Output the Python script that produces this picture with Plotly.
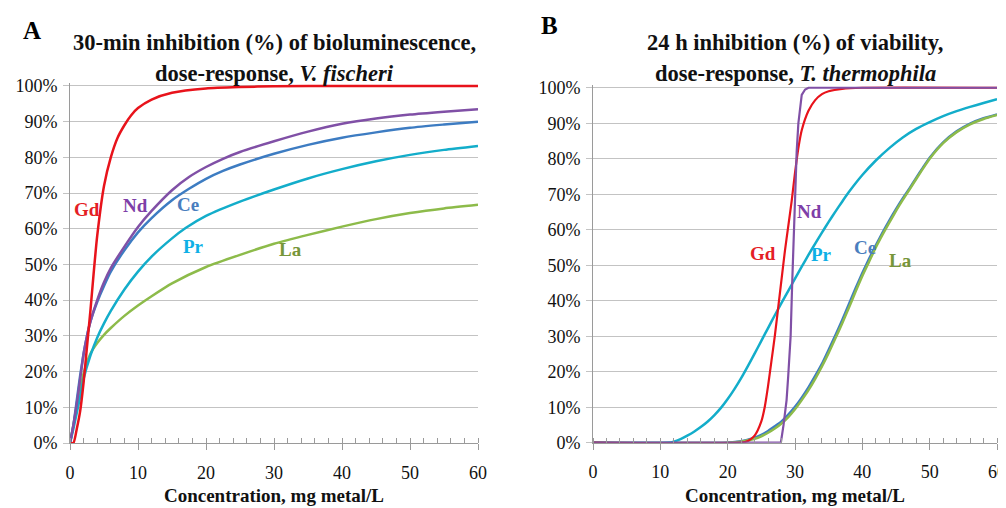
import plotly.graph_objects as go

# ---------------- Panel A data: 30-min inhibition (%) of bioluminescence, V. fischeri
a_gd_x = [0, 0.5, 1, 1.5, 2, 2.5, 3, 3.5, 4, 5, 6, 7, 8, 9, 10, 12, 15, 20, 25, 30, 40, 50, 60]
a_gd_y = [0, 0, 4, 9, 17, 27, 37, 48, 58, 72, 80, 85.5, 89, 91.8, 93.8, 96.2, 98.1, 99.3, 99.7, 99.9, 100, 100, 100]

a_nd_x = [0, 0.5, 1, 1.5, 2, 2.5, 3, 4, 5, 6, 8, 10, 12, 15, 17.5, 20, 22.5, 25, 30, 35, 40, 45, 50, 55, 60]
a_nd_y = [0, 5, 11, 18, 25, 30, 34, 40, 45, 49, 55, 60.5, 65, 70.8, 74.5, 77.3, 79.6, 81.5, 84.5, 87.2,
          89.4, 90.9, 92, 92.8, 93.5]

a_ce_x = [0, 0.5, 1, 1.5, 2, 2.5, 3, 4, 5, 6, 8, 10, 12, 15, 17.5, 20, 22.5, 25, 30, 35, 40, 45, 50, 55, 60]
a_ce_y = [0, 5, 12, 19, 25, 30, 34, 39.5, 44, 48, 54, 59, 63, 68, 71.2, 74, 76.2, 78, 81, 83.5, 85.5, 87,
          88.3, 89.2, 90]

a_pr_x = [0, 0.5, 1, 1.5, 2, 3, 4, 5, 6, 8, 10, 12, 15, 17, 20, 25, 30, 35, 40, 45, 50, 55, 60]
a_pr_y = [0, 4, 8.5, 13, 18, 24.5, 29.5, 33.5, 37, 43, 48, 52.2, 57.3, 60.2, 63.6, 67.6, 71, 74.1, 76.7,
          78.9, 80.7, 82.1, 83.2]

a_la_x = [0, 0.5, 1, 1.5, 2, 3, 4, 5, 6, 8, 10, 12, 15, 20, 25, 30, 35, 40, 45, 50, 55, 60]
a_la_y = [0, 5, 10, 15, 19.5, 25, 28, 30.3, 32.2, 35.6, 38.5, 41.1, 44.7, 49.3, 52.7, 55.8, 58.3, 60.6, 62.7, 64.4, 65.7, 66.7]

# ---------------- Panel B data: 24 h inhibition (%) of viability, T. thermophila
b_gd_x = [0, 22, 23, 24, 25, 25.5, 26, 26.5, 27, 27.5, 28, 28.5, 29, 29.5, 30, 30.5, 31, 32, 33, 34, 35, 37, 40, 60]
b_gd_y = [0, 0, 0.5, 2, 6, 10, 16, 23, 30, 38, 46, 54, 61, 68, 76, 83, 88, 93.5, 96.5, 98.2, 99, 99.7, 100, 100]

b_nd_x = [0, 27.9, 28.3, 28.75, 29.0, 29.35, 29.6, 29.8, 30.0, 30.25, 30.5, 30.75, 31.0, 31.5, 32, 60]
b_nd_y = [0, 0, 5, 12, 19, 30, 46, 58, 71, 82, 90, 95, 98, 99.5, 100, 100]

b_pr_x = [0, 11, 12, 13, 14, 15, 16, 17, 18, 19, 20, 21, 22, 23, 24, 25, 26, 27, 28, 29, 30, 31, 32,
          33, 34, 35, 36, 37, 38, 40, 42, 44, 46, 48, 50, 52, 54, 56, 58, 60]
b_pr_y = [0, 0, 0.3, 1.0, 2.0, 3.1, 4.4, 5.9, 7.7, 9.8, 12.3, 15.1, 18.2, 21.6, 25.1, 28.7, 32.3, 35.9,
          39.4, 42.8, 46.2, 49.6, 52.9, 56.1, 59.2, 62.2, 65.1, 67.9, 70.6, 75.4, 79.5, 83.0, 86.0, 88.4,
          90.3, 92.0, 93.4, 94.6, 95.7, 96.8]

b_ce_x = [0, 20, 22, 24, 25, 26, 27, 28, 29, 30, 31, 32, 33, 34, 35, 36, 37, 38, 39, 40, 41, 42, 43, 44,
          45, 46, 47, 48, 49, 50, 52, 54, 56, 58, 60]
b_ce_y = [0, 0, 0.4, 1.4, 2.2, 3.3, 4.6, 6, 7.9, 10.1, 12.7, 15.6, 18.8, 22.2, 26.2, 30.3, 34.5, 39, 43.5,
          47.8, 51.8, 55.6, 59.2, 62.6, 65.8, 68.8, 71.6, 74.6, 77.5, 80.3, 84.6, 87.7, 89.9, 91.4, 92.5]

b_la_x = [0, 20, 22, 24, 25, 26, 27, 28, 29, 30, 31, 32, 33, 34, 35, 36, 37, 38, 39, 40, 41, 42, 43, 44,
          45, 46, 47, 48, 49, 50, 52, 54, 56, 58, 60]
b_la_y = [0, 0, 0.3, 1.1, 1.8, 2.8, 4.0, 5.4, 7.2, 9.4, 12, 14.8, 18, 21.5, 25.3, 29.4, 33.6, 38, 42.6,
          47, 51, 55, 58.6, 62, 65.3, 68.4, 71.3, 74.3, 77.2, 80.0, 84.4, 87.5, 89.7, 91.2, 92.3]

x_ticks = [0, 10, 20, 30, 40, 50, 60]
y_ticks = [0, 10, 20, 30, 40, 50, 60, 70, 80, 90, 100]

titles_a = ["30-min inhibition (%) of bioluminescence,", "dose-response, <i>V. fischeri</i>"]
titles_b = ["24 h inhibition (%) of viability,", "dose-response, <i>T. thermophila</i>"]
x_title = "Concentration, mg metal/L"

# ---------------- styles / geometry
FONT = "Liberation Serif"
C_GD = "#E8131B"
C_ND = "#8050A6"
C_CE = "#3D7CC2"
C_PR = "#13ADCA"
C_LA = "#8DBB4A"
L_GD = "#E41E25"
L_ND = "#7E3FA8"
L_CE = "#4A7EBE"
L_PR = "#0FB0E6"
L_LA = "#77963A"

# the page body adds an 8px margin, so the figure is sized/shifted to compensate
OFF = 8
W, H = 998, 500

def PX(px):
    return (px - OFF) / W

def PY(py):
    return 1 - (py - OFF) / H

fig = go.Figure()

def add(x, y, color, xa, ya, shape="spline", width=2.5):
    fig.add_trace(go.Scatter(x=x, y=y, mode="lines", xaxis=xa, yaxis=ya,
                             line=dict(color=color, width=width, shape=shape, smoothing=0.6),
                             showlegend=False, hoverinfo="skip"))

# Panel A (draw order: La, Pr, Ce, Nd, Gd)
add(a_la_x, a_la_y, C_LA, "x", "y")
add(a_pr_x, a_pr_y, C_PR, "x", "y")
add(a_ce_x, a_ce_y, C_CE, "x", "y")
add(a_nd_x, a_nd_y, C_ND, "x", "y")
add(a_gd_x, a_gd_y, C_GD, "x", "y")

# Panel B
add(b_ce_x, b_ce_y, C_CE, "x2", "y2")
add(b_la_x, b_la_y, C_LA, "x2", "y2")
add(b_pr_x, b_pr_y, C_PR, "x2", "y2")
add(b_gd_x, b_gd_y, C_GD, "x2", "y2", width=2.2)
add(b_nd_x, b_nd_y, C_ND, "x2", "y2", shape="linear", width=2.2)

GRID = "#C3C3C3"
AXC = "#9A9A9A"

def xaxis(domain, anchor):
    return dict(domain=domain, anchor=anchor, range=[0, 60], tickvals=x_ticks, automargin=False,
                showgrid=False, zeroline=False, showline=True, linecolor=AXC, linewidth=1,
                ticks="outside", ticklen=6, tickcolor=AXC, tickwidth=1, ticklabelstandoff=7,
                minor=dict(dtick=2, ticks="inside", ticklen=5, tickcolor=AXC, tickwidth=1, showgrid=False),
                tickfont=dict(family=FONT, size=18, color="#111"),
                title=dict(text="<b>" + x_title + "</b>", font=dict(family=FONT, size=19, color="#111"),
                           standoff=7))

def yaxis(domain, anchor):
    return dict(domain=domain, anchor=anchor, range=[0, 100.8], tickvals=y_ticks, automargin=False,
                ticktext=[f"{v}%" for v in y_ticks],
                showgrid=True, gridcolor=GRID, gridwidth=1, zeroline=False,
                showline=True, linecolor=AXC, linewidth=1,
                ticks="outside", ticklen=6, tickcolor=GRID, tickwidth=1, ticklabelstandoff=2,
                tickfont=dict(family=FONT, size=18, color="#111"))

fig.update_layout(
    width=W, height=H,
    margin=dict(l=0, r=0, t=0, b=0, autoexpand=False),
    paper_bgcolor="white", plot_bgcolor="white",
    xaxis=xaxis([PX(70), PX(478)], "y"),
    yaxis=yaxis([PY(443), PY(83.1)], "x"),
    xaxis2=xaxis([PX(593), PX(997)], "y2"),
    yaxis2=yaxis([PY(442.7), PY(84.9)], "x2"),
)

ann = []
# panel letters
ann.append(dict(text="<b>A</b>", x=PX(32), y=PY(30), xref="paper", yref="paper",
                xanchor="center", yanchor="middle",
                showarrow=False, font=dict(family=FONT, size=25, color="#000")))
ann.append(dict(text="<b>B</b>", x=PX(549), y=PY(25), xref="paper", yref="paper",
                xanchor="center", yanchor="middle",
                showarrow=False, font=dict(family=FONT, size=25, color="#000")))
# titles
for cx, lines in [(274, titles_a), (795, titles_b)]:
    for ly, t in zip([42, 73], lines):
        ann.append(dict(text="<b>" + t + "</b>", x=PX(cx), y=PY(ly), xref="paper", yref="paper",
                        xanchor="center", yanchor="middle",
                        showarrow=False, font=dict(family=FONT, size=22.5, color="#111")))

# curve labels
lab_a = [("Gd", 2.5, 65.3, L_GD), ("Nd", 9.6, 66.4, L_ND), ("Ce", 17.4, 66.7, L_CE),
         ("Pr", 18.1, 54.9, L_PR), ("La", 32.4, 54.1, L_LA)]
lab_b = [("Gd", 25.2, 53.4, L_GD), ("Nd", 32.1, 65.0, L_ND), ("Pr", 34.0, 52.9, L_PR),
         ("Ce", 40.4, 55.1, L_CE), ("La", 45.6, 51.2, L_LA)]
for t, x, y, c in lab_a:
    ann.append(dict(text="<b>" + t + "</b>", x=x, y=y, xref="x", yref="y", showarrow=False,
                    xanchor="center", yanchor="middle",
                    font=dict(family=FONT, size=19, color=c)))
for t, x, y, c in lab_b:
    ann.append(dict(text="<b>" + t + "</b>", x=x, y=y, xref="x2", yref="y2", showarrow=False,
                    xanchor="center", yanchor="middle",
                    font=dict(family=FONT, size=19, color=c)))
fig.update_layout(annotations=ann)

fig.write_html("out.html")
